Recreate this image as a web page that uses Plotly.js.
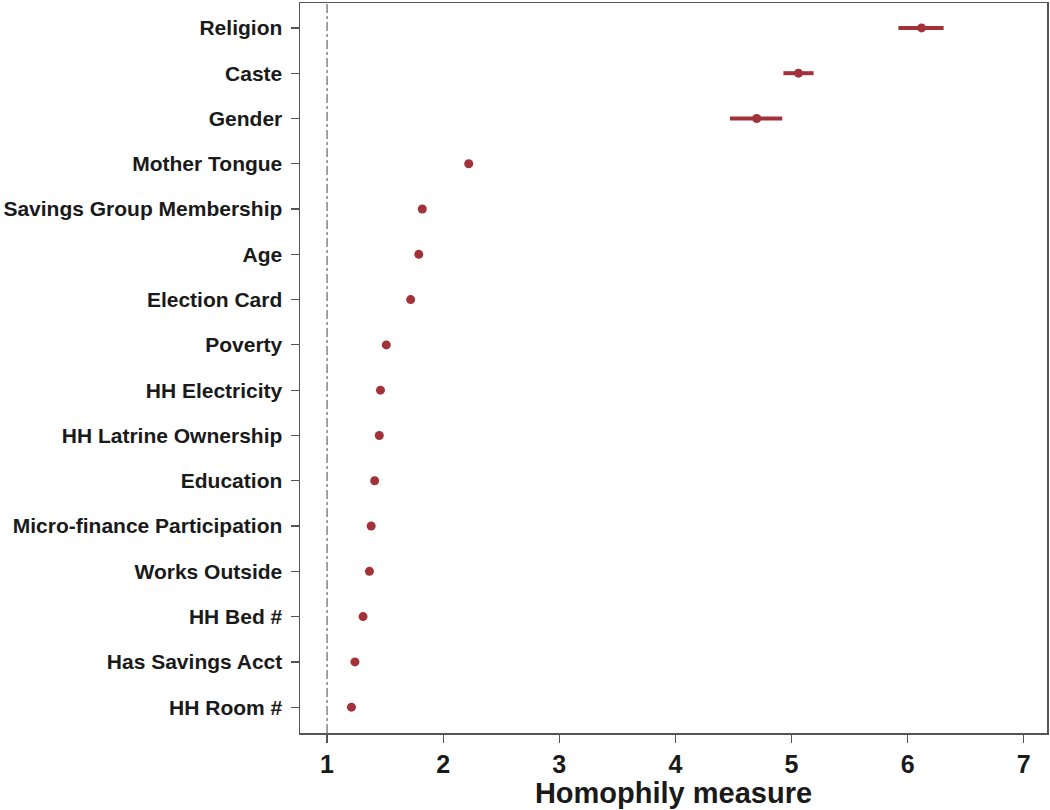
<!DOCTYPE html>
<html>
<head>
<meta charset="utf-8">
<script src="https://cdn.plot.ly/plotly-3.0.1.min.js"></script>
<style>html,body{margin:0;padding:0;background:#fff;}#chart{width:1050px;height:810px;}</style>
</head>
<body>
<div id="chart"></div>
<script>
const categories = ["Religion","Caste","Gender","Mother Tongue","Savings Group Membership","Age","Election Card","Poverty","HH Electricity","HH Latrine Ownership","Education","Micro-finance Participation","Works Outside","HH Bed #","Has Savings Acct","HH Room #"];
const estimates = [6.12, 5.06, 4.70, 2.22, 1.82, 1.79, 1.72, 1.51, 1.46, 1.45, 1.41, 1.38, 1.365, 1.31, 1.24, 1.21];
const lower =     [5.92, 4.93, 4.47, 2.19, 1.81, 1.78, 1.71, 1.50, 1.45, 1.44, 1.40, 1.37, 1.355, 1.30, 1.23, 1.20];
const upper =     [6.31, 5.19, 4.92, 2.25, 1.83, 1.80, 1.73, 1.52, 1.47, 1.46, 1.42, 1.39, 1.375, 1.32, 1.25, 1.22];
const xTicks = [1, 2, 3, 4, 5, 6, 7];
const refValue = 1;

const plus = estimates.map((v, i) => upper[i] - v);
const minus = estimates.map((v, i) => v - lower[i]);
const red = '#a2313a';

const trace = {
  type: 'scatter', mode: 'markers',
  x: estimates, y: categories,
  marker: {color: red, size: 9},
  error_x: {type: 'data', symmetric: false, array: plus, arrayminus: minus, color: red, thickness: 4, width: 0},
  hoverinfo: 'x+y'
};

const layout = {
  width: 1050, height: 810,
  margin: {l: 300, r: 3, t: 3, b: 77},
  paper_bgcolor: '#fff', plot_bgcolor: '#fff',
  showlegend: false,
  font: {family: '"Liberation Sans", Arial, sans-serif', color: '#1a1a1a'},
  xaxis: {
    range: [0.767, 7.2], tickvals: xTicks, ticktext: xTicks.map(String),
    showgrid: false, zeroline: false,
    showline: true, mirror: true, linecolor: '#555', linewidth: 1.5,
    ticks: 'outside', ticklen: 8, tickwidth: 1.2, tickcolor: '#555',
    tickfont: {size: 25, family: '"Liberation Sans", Arial, sans-serif', color: '#1a1a1a', weight: 'bold'},
    title: {text: '<b>Homophily measure</b>', font: {size: 29, color: '#1a1a1a'}, standoff: 4}
  },
  yaxis: {
    type: 'category', categoryorder: 'array', categoryarray: categories,
    range: [15.57, -0.55],
    showgrid: false, zeroline: false,
    showline: true, mirror: true, linecolor: '#555', linewidth: 1.5,
    ticks: 'outside', ticklen: 8, tickwidth: 1.2, tickcolor: '#555',
    tickfont: {size: 21, family: '"Liberation Sans", Arial, sans-serif', color: '#1a1a1a', weight: 'bold'},
    ticklabelstandoff: 4
  },
  shapes: [{
    type: 'line', xref: 'x', yref: 'paper', x0: refValue, x1: refValue, y0: 0, y1: 1,
    line: {color: '#666', width: 1.2, dash: 'dashdot'}
  }]
};

Plotly.newPlot('chart', [trace], layout, {displayModeBar: false, staticPlot: true});
</script>
</body>
</html>
